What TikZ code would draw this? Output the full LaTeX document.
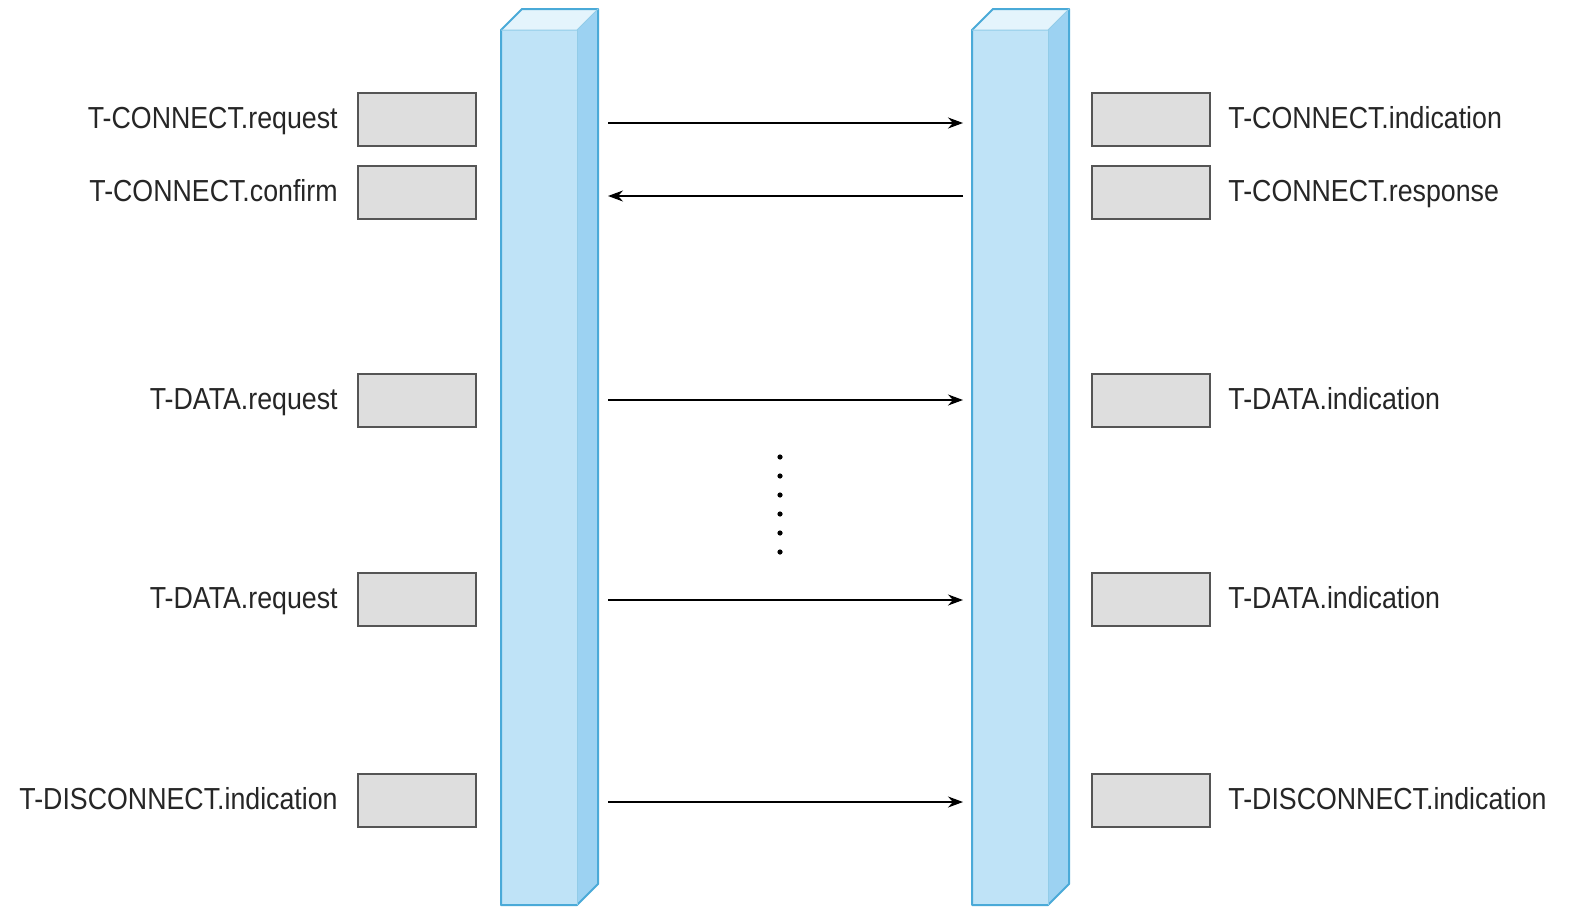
\documentclass[tikz,border=0pt]{standalone}
\usepackage{fontspec}
\setmainfont[FakeStretch=0.88]{Liberation Sans}
\usetikzlibrary{arrows.meta}
\definecolor{frontc}{HTML}{BFE3F7}
\definecolor{sidec}{HTML}{9CD2F2}
\definecolor{topc}{HTML}{E4F4FC}
\definecolor{edgec}{HTML}{4AAAD8}
\definecolor{boxc}{HTML}{DEDEDE}
\definecolor{boxb}{HTML}{555555}
\tikzset{
  prim/.style={draw=boxb, fill=boxc, line width=1pt, minimum width=59pt, minimum height=26.5pt, inner sep=0pt},
  lab/.style={font=\fontsize{15.2}{17}\selectfont, inner sep=0pt, text=black!85},
  msg/.style={-{Stealth[length=7.5pt,width=5.5pt]}, line width=0.6pt},
  colface/.style={draw=edgec, line width=1pt, line join=round},
}
\begin{document}
\begin{tikzpicture}[x=0.5pt,y=-0.5pt]
\fill[white] (0,0) rectangle (1594,921);
\useasboundingbox (0,0) rectangle (1594,921);
% columns
\foreach \xa/\nm in {501/L,972/R}{
  \fill[sidec] (\xa+76,30) -- (\xa+97,9) -- (\xa+97,884) -- (\xa+76,905) -- cycle;
  \fill[topc] (\xa,30) -- (\xa+21,9) -- (\xa+97,9) -- (\xa+76,30) -- cycle;
  \fill[frontc] (\xa,30) rectangle (\xa+76,905);
  \draw[colface] (\xa,905) -- (\xa,30) -- (\xa+21,9) -- (\xa+97,9) -- (\xa+97,884) -- (\xa+76,905) -- cycle;
  \draw[colface, line width=0.5pt, draw=white!40!edgec] (\xa,30) -- (\xa+76,30) -- (\xa+97,9);
  \draw[colface, line width=0.5pt, draw=white!40!edgec] (\xa+76,30) -- (\xa+76,905);
  \coordinate (col\nm) at (\xa,0);
}
% primitive boxes
\foreach \yy/\i in {119.5/1,192.5/2,400.5/3,599.5/4,800.5/5}{
  \node[prim] (lb\i) at (417,\yy) {};
  \node[prim] (rb\i) at (1151,\yy) {};
}
% labels
\node[lab, anchor=base east] (ll1) at (338,128) {T-CONNECT.request};
\node[lab, anchor=base east] (ll2) at (338,201) {T-CONNECT.confirm};
\node[lab, anchor=base east] (ll3) at (338,409) {T-DATA.request};
\node[lab, anchor=base east] (ll4) at (338,608) {T-DATA.request};
\node[lab, anchor=base east] (ll5) at (338,809) {T-DISCONNECT.indication};
\node[lab, anchor=base west] (rl1) at (1228,128) {T-CONNECT.indication};
\node[lab, anchor=base west] (rl2) at (1228,201) {T-CONNECT.response};
\node[lab, anchor=base west] (rl3) at (1228,409) {T-DATA.indication};
\node[lab, anchor=base west] (rl4) at (1228,608) {T-DATA.indication};
\node[lab, anchor=base west] (rl5) at (1228,809) {T-DISCONNECT.indication};
% arrows
\coordinate (a1s) at (608,123); \coordinate (a1e) at (963,123);
\coordinate (a2s) at (963,196); \coordinate (a2e) at (608,196);
\coordinate (a3s) at (608,400); \coordinate (a3e) at (963,400);
\coordinate (a4s) at (608,600); \coordinate (a4e) at (963,600);
\coordinate (a5s) at (608,802); \coordinate (a5e) at (963,802);
\foreach \i in {1,...,5}{ \draw[msg] (a\i s) -- (a\i e); }
% dots
\foreach \yy in {457,476,495,514,533,552}{ \fill (780,\yy) circle (2.6); }
\end{tikzpicture}
\end{document}
